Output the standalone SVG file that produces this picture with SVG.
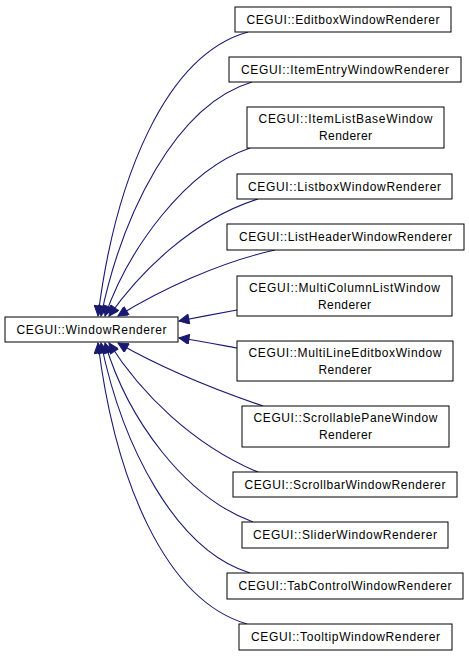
<svg xmlns="http://www.w3.org/2000/svg" width="469" height="656" viewBox="0 0 469 656">
<style>
.n rect{fill:#fff;stroke:#000;stroke-width:1}
.n text{font-family:"Liberation Sans",Arial,sans-serif;font-size:12px;fill:#000;text-anchor:middle}
.e path{fill:none;stroke:#191970;stroke-width:1.1}
</style>
<defs>
<marker id="ah" viewBox="0 0 10 10" refX="10" refY="5" markerWidth="12" markerHeight="10" markerUnits="userSpaceOnUse" orient="auto">
<path d="M0,0 L10,5 L0,10 z" fill="#191970" stroke="#191970"/>
</marker>
</defs>
<rect width="469" height="656" fill="#fff"/>
<g id="edges" class="e">
<path marker-end="url(#ah)" d="M248,32 C165,55 115,180 98,316"/>
<path marker-end="url(#ah)" d="M252,82 C175,105 122,215 101,316"/>
<path marker-end="url(#ah)" d="M250,148 C185,170 128,250 105,316"/>
<path marker-end="url(#ah)" d="M258,199 C192,220 140,272 109,316"/>
<path marker-end="url(#ah)" d="M275,250 C220,262 160,290 118,316"/>
<path marker-end="url(#ah)" d="M237,310 C215,314 200,317 179,321"/>
<path marker-end="url(#ah)" d="M237,348 C215,344 200,341 179,338"/>
<path marker-end="url(#ah)" d="M263,406 C210,388 160,367 118,343"/>
<path marker-end="url(#ah)" d="M260,473 C192,445 140,392 109,343"/>
<path marker-end="url(#ah)" d="M253,522 C185,497 128,420 105,343"/>
<path marker-end="url(#ah)" d="M250,573 C175,550 122,445 101,343"/>
<path marker-end="url(#ah)" d="M247,624 C165,600 115,480 98,343"/>
</g>
<g id="WindowRenderer" class="n"><rect x="5" y="317" width="173" height="25"/><text x="91.5" y="333.5" textLength="150">CEGUI::WindowRenderer</text></g>
<g id="EditboxWindowRenderer" class="n"><rect x="235" y="7" width="216" height="25"/><text x="343" y="24" textLength="193">CEGUI::EditboxWindowRenderer</text></g>
<g id="ItemEntryWindowRenderer" class="n"><rect x="229" y="57" width="232" height="25"/><text x="345" y="74" textLength="208">CEGUI::ItemEntryWindowRenderer</text></g>
<g id="ItemListBaseWindowRenderer" class="n"><rect x="247" y="107" width="197" height="41"/><text x="345.5" y="123" textLength="174">CEGUI::ItemListBaseWindow</text><text x="345.5" y="140" textLength="53">Renderer</text></g>
<g id="ListboxWindowRenderer" class="n"><rect x="237" y="174" width="215" height="25"/><text x="344.5" y="191" textLength="193">CEGUI::ListboxWindowRenderer</text></g>
<g id="ListHeaderWindowRenderer" class="n"><rect x="227" y="224" width="237" height="26"/><text x="345.5" y="241" textLength="213">CEGUI::ListHeaderWindowRenderer</text></g>
<g id="MultiColumnListWindowRenderer" class="n"><rect x="237" y="276" width="215" height="40"/><text x="344.5" y="292" textLength="191">CEGUI::MultiColumnListWindow</text><text x="344.5" y="309" textLength="53">Renderer</text></g>
<g id="MultiLineEditboxWindowRenderer" class="n"><rect x="237" y="341" width="216" height="40"/><text x="345" y="357" textLength="193">CEGUI::MultiLineEditboxWindow</text><text x="345" y="374" textLength="53">Renderer</text></g>
<g id="ScrollablePaneWindowRenderer" class="n"><rect x="242" y="406" width="207" height="41"/><text x="345.5" y="422" textLength="184">CEGUI::ScrollablePaneWindow</text><text x="345.5" y="439" textLength="53">Renderer</text></g>
<g id="ScrollbarWindowRenderer" class="n"><rect x="233" y="472" width="224" height="25"/><text x="345" y="489" textLength="201">CEGUI::ScrollbarWindowRenderer</text></g>
<g id="SliderWindowRenderer" class="n"><rect x="242" y="522" width="206" height="26"/><text x="345" y="539" textLength="184">CEGUI::SliderWindowRenderer</text></g>
<g id="TabControlWindowRenderer" class="n"><rect x="227" y="573" width="236" height="26"/><text x="345" y="590" textLength="213">CEGUI::TabControlWindowRenderer</text></g>
<g id="TooltipWindowRenderer" class="n"><rect x="239" y="624" width="213" height="26"/><text x="345.5" y="641" textLength="189">CEGUI::TooltipWindowRenderer</text></g>
</svg>
